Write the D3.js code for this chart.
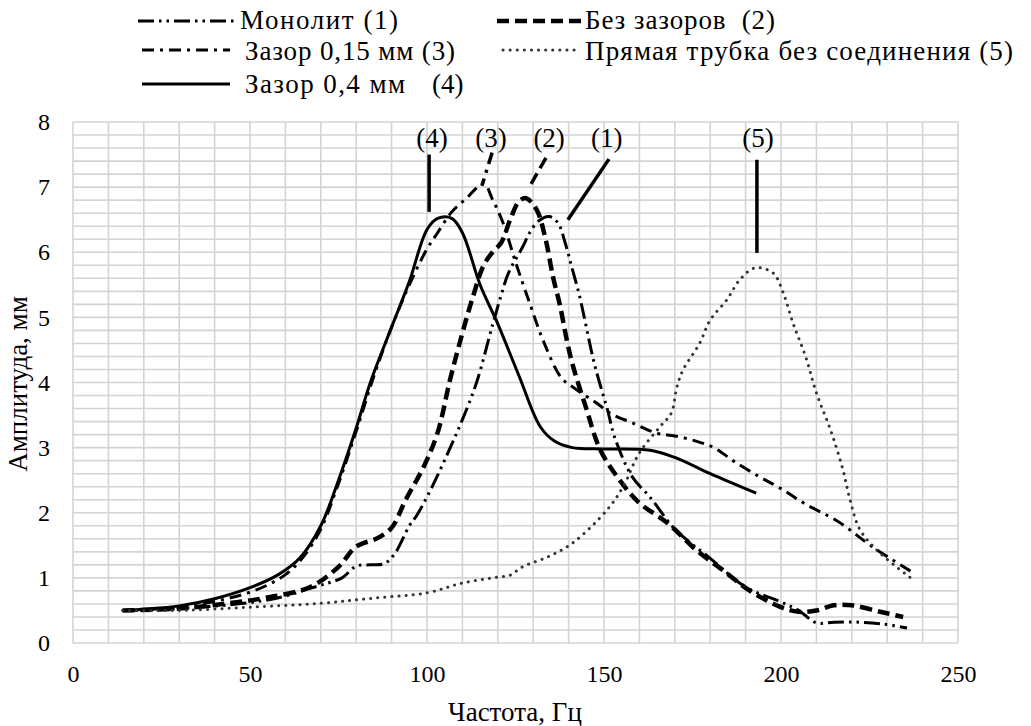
<!DOCTYPE html>
<html>
<head>
<meta charset="utf-8">
<script src="https://cdn.jsdelivr.net/npm/d3@7"></script>
<style>
  body { margin: 0; background: #fff; }
  svg text { font-family: "Liberation Serif", Tinos, "DejaVu Serif", "Noto Serif", serif; fill: #000; }
</style>
</head>
<body>
<div id="chart"></div>
<script>
// frequency (Hz) / amplitude (mm) pairs
const monolit = [
  [14, 0.5], [30, 0.53], [50, 0.62], [60, 0.72], [67, 0.84], [72, 0.92], [76, 1.0],
  [80, 1.18], [84, 1.2], [88, 1.22], [91, 1.38], [95, 1.8], [97, 1.95], [101, 2.35],
  [106, 2.93], [110, 3.43], [114, 4.0], [118.6, 4.9], [121, 5.35], [123, 5.68],
  [127, 6.08], [129, 6.3], [131.5, 6.48], [134.5, 6.55], [137, 6.45], [139, 6.15],
  [141, 5.75], [143, 5.35], [147, 4.35], [149, 3.95], [151, 3.58], [153, 3.16],
  [158, 2.55], [163, 2.24], [170, 1.75], [180, 1.3], [190, 0.86], [200, 0.63],
  [205, 0.5], [210, 0.31], [215, 0.32], [222, 0.32], [229, 0.29], [235.6, 0.23]
];
const bezZazorov = [
  [14, 0.5], [30, 0.53], [44, 0.61], [55, 0.7], [67, 0.86], [75, 1.17], [80, 1.48],
  [86, 1.61], [90, 1.77], [94, 2.2], [99, 2.7], [103, 3.23], [106.5, 4.04], [110, 4.76],
  [113, 5.32], [116, 5.8], [118.5, 6.0], [121, 6.15], [123.5, 6.5], [126, 6.78],
  [128, 6.83], [131, 6.65], [133.5, 6.2], [135.6, 5.62], [137.5, 5.2], [139.5, 4.65],
  [141, 4.3], [145, 3.6], [149, 2.96], [155, 2.46], [160, 2.15], [168, 1.84],
  [176, 1.43], [184, 1.1], [191, 0.81], [200, 0.55], [205, 0.48], [210, 0.5],
  [215, 0.58], [220, 0.58], [228, 0.48], [234.5, 0.4]
];
const zazor015 = [
  [14, 0.5], [30, 0.55], [50, 0.78], [60, 1.05], [65, 1.32], [70, 1.75], [75, 2.45],
  [80, 3.25], [85, 4.1], [90, 4.85], [95, 5.5], [100, 6.05], [103, 6.3], [107, 6.62],
  [111, 6.82], [116, 7.05], [118.6, 6.8], [121.5, 6.45], [125, 5.85], [129, 5.22],
  [133, 4.62], [138, 4.07], [142, 3.9], [148, 3.68], [152, 3.52], [158, 3.38],
  [165, 3.22], [170, 3.18], [176, 3.1], [181, 3.0], [187, 2.78], [194, 2.55],
  [200, 2.37], [207, 2.13], [216, 1.87], [226, 1.47], [237, 1.09]
];
const zazor04 = [
  [14, 0.5], [20, 0.52], [30, 0.57], [40, 0.68], [50, 0.85], [58, 1.05], [64, 1.3],
  [70, 1.8], [75, 2.5], [80, 3.3], [84, 4.0], [90, 4.85], [95, 5.55], [100, 6.35],
  [103, 6.52], [107, 6.52], [110, 6.3], [115, 5.5], [120, 4.9], [126, 4.1],
  [132, 3.32], [136, 3.1], [141, 3.0], [150, 2.98], [163, 2.96], [170, 2.85],
  [180, 2.6], [193, 2.3]
];
const pryamaya = [
  [14, 0.5], [30, 0.5], [50, 0.55], [70, 0.61], [85, 0.69], [100, 0.77], [110, 0.92],
  [119.7, 1.01], [123.4, 1.04], [127, 1.17], [134, 1.32], [141, 1.53], [150.8, 2.04],
  [155.4, 2.4], [160, 2.92], [165.8, 3.32], [169, 3.53], [170.6, 3.93], [172.3, 4.19],
  [177, 4.6], [180, 4.96], [184.7, 5.27], [188.4, 5.58], [192.7, 5.76], [197.8, 5.68],
  [200.6, 5.38], [203.4, 4.91], [207, 4.39], [210, 3.84], [214, 3.27], [217.5, 2.66],
  [219.5, 2.2], [222.3, 1.74], [228, 1.38], [236.4, 1.01]
];

const seriesNames = [
  "Монолит (1)", "Без зазоров  (2)", "Зазор 0,15 мм (3)",
  "Зазор 0,4 мм", "Прямая трубка без соединения (5)"
];
const xTicks = [0, 50, 100, 150, 200, 250];
const yTicks = [0, 1, 2, 3, 4, 5, 6, 7, 8];

// peak marks: label position and leader line ends, in data units
const peakLabels = ["(4)", "(3)", "(2)", "(1)", "(5)"];
const peakLabelAt = [[101.4, 7.77], [118.1, 7.77], [134.5, 7.77], [150.8, 7.77], [193.5, 7.77]];
const peakLeaders = [
  [[100.6, 7.5], [100.6, 6.62]],
  [[118.4, 7.53], [115.5, 7.02]],
  [[133.6, 7.45], [128.8, 6.99]],
  [[151.4, 7.43], [139.8, 6.5]],
  [[193.2, 7.42], [193.2, 5.99]]
];

const width = 1031;
const height = 726;
const margin = {top: 122, right: 73, bottom: 83, left: 73};
const fontFamily = '"Liberation Serif", Tinos, "DejaVu Serif", "Noto Serif", serif';

const styles = [
  {w: 3, dash: "16 5 2.5 5 2.5 5", cap: "butt", color: "#000"},
  {w: 4.5, dash: "12 6", cap: "butt", color: "#000"},
  {w: 3, dash: "12 6 3 6", cap: "butt", color: "#000"},
  {w: 3, dash: null, cap: "butt", color: "#000"},
  {w: 3, dash: "0.1 7", cap: "round", color: "#333"}
];
const series = [monolit, bezZazorov, zazor015, zazor04, pryamaya];
// leader lines use the style of their curve, (1) and (5) are plain
const leaderStyle = [3, 2, 1, 3, 3];

const svg = d3.select("#chart")
  .append("svg")
    .attr("width", width)
    .attr("height", height)
    .attr("font-family", fontFamily);

const xScale = d3.scaleLinear()
  .domain([0, 250])
  .range([margin.left, width - margin.right]);
const yScale = d3.scaleLinear()
  .domain([0, 8])
  .range([height - margin.bottom, margin.top]);

// grid
const grid = svg.append("g");
grid.selectAll("line.v")
  .data(d3.range(0, 251, 10))
  .join("line")
    .attr("x1", d => xScale(d)).attr("x2", d => xScale(d))
    .attr("y1", yScale(0)).attr("y2", yScale(8))
    .attr("stroke", "#d4d4d4").attr("stroke-width", 1.6);
grid.selectAll("line.h")
  .data(d3.range(0, 41).map(i => i * 0.2))
  .join("line")
    .attr("x1", xScale(0)).attr("x2", xScale(250))
    .attr("y1", d => yScale(d)).attr("y2", d => yScale(d))
    .attr("stroke", "#d4d4d4").attr("stroke-width", 1.6);

// axes (labels only)
const bottomAxis = d3.axisBottom(xScale).tickValues(xTicks).tickSize(0).tickPadding(22);
svg.append("g")
    .attr("transform", `translate(0, ${yScale(0)})`)
    .call(bottomAxis)
    .attr("font-family", fontFamily)
    .attr("font-size", 24)
    .call(g => g.select(".domain").remove());

const leftAxis = d3.axisLeft(yScale).tickValues(yTicks).tickSize(0).tickPadding(23);
svg.append("g")
    .attr("transform", `translate(${xScale(0)}, 0)`)
    .call(leftAxis)
    .attr("font-family", fontFamily)
    .attr("font-size", 24)
    .call(g => g.select(".domain").remove());

// axis titles
svg.append("text")
    .text("Частота, Гц")
    .attr("x", 515)
    .attr("y", 721)
    .attr("text-anchor", "middle")
    .attr("font-size", 27);
svg.append("text")
    .text("Амплитуда, мм")
    .attr("transform", `translate(27, 384) rotate(-90)`)
    .attr("text-anchor", "middle")
    .attr("font-size", 27);

// curves
const line = d3.line()
  .x(d => xScale(d[0]))
  .y(d => yScale(d[1]))
  .curve(d3.curveCatmullRom.alpha(0.5));

const applyStyle = (sel, s) => sel
  .attr("fill", "none")
  .attr("stroke", s.color)
  .attr("stroke-width", s.w)
  .attr("stroke-linecap", s.cap)
  .attr("stroke-linejoin", "round")
  .attr("stroke-dasharray", s.dash);

series.forEach((data, i) => {
  svg.append("path")
      .attr("d", line(data))
      .call(applyStyle, styles[i]);
});

// peak labels and leader lines
peakLabels.forEach((label, i) => {
  svg.append("text")
      .text(label)
      .attr("x", xScale(peakLabelAt[i][0]))
      .attr("y", yScale(peakLabelAt[i][1]) + 10)
      .attr("text-anchor", "middle")
      .attr("font-size", 27);
  const s = Object.assign({}, styles[leaderStyle[i]], {color: "#000", w: 3.5});
  svg.append("path")
      .attr("d", d3.line().x(d => xScale(d[0])).y(d => yScale(d[1]))(peakLeaders[i]))
      .call(applyStyle, s);
});

// legend
const legendItems = [
  {s: 0, x1: 138, x2: 236, y: 21, tx: 240, ty: 29, len: 158},
  {s: 1, x1: 497, x2: 582, y: 21, tx: 585, ty: 29, len: 190},
  {s: 2, x1: 142, x2: 230, y: 50, tx: 245, ty: 60, len: 210},
  {s: 4, x1: 503, x2: 580, y: 50, tx: 585, ty: 60, len: 428},
  {s: 3, x1: 142, x2: 230, y: 84, tx: 245, ty: 93, len: 160}
];
legendItems.forEach(item => {
  svg.append("line")
      .attr("x1", item.x1).attr("x2", item.x2)
      .attr("y1", item.y).attr("y2", item.y)
      .call(applyStyle, styles[item.s]);
  svg.append("text")
      .text(seriesNames[item.s])
      .attr("x", item.tx)
      .attr("y", item.ty)
      .attr("textLength", item.len)
      .attr("lengthAdjust", "spacing")
      .style("white-space", "pre")
      .attr("font-size", 27);
});
svg.append("text")
    .text("(4)")
    .attr("x", 432)
    .attr("y", 93)
    .attr("font-size", 27);
</script>
</body>
</html>
